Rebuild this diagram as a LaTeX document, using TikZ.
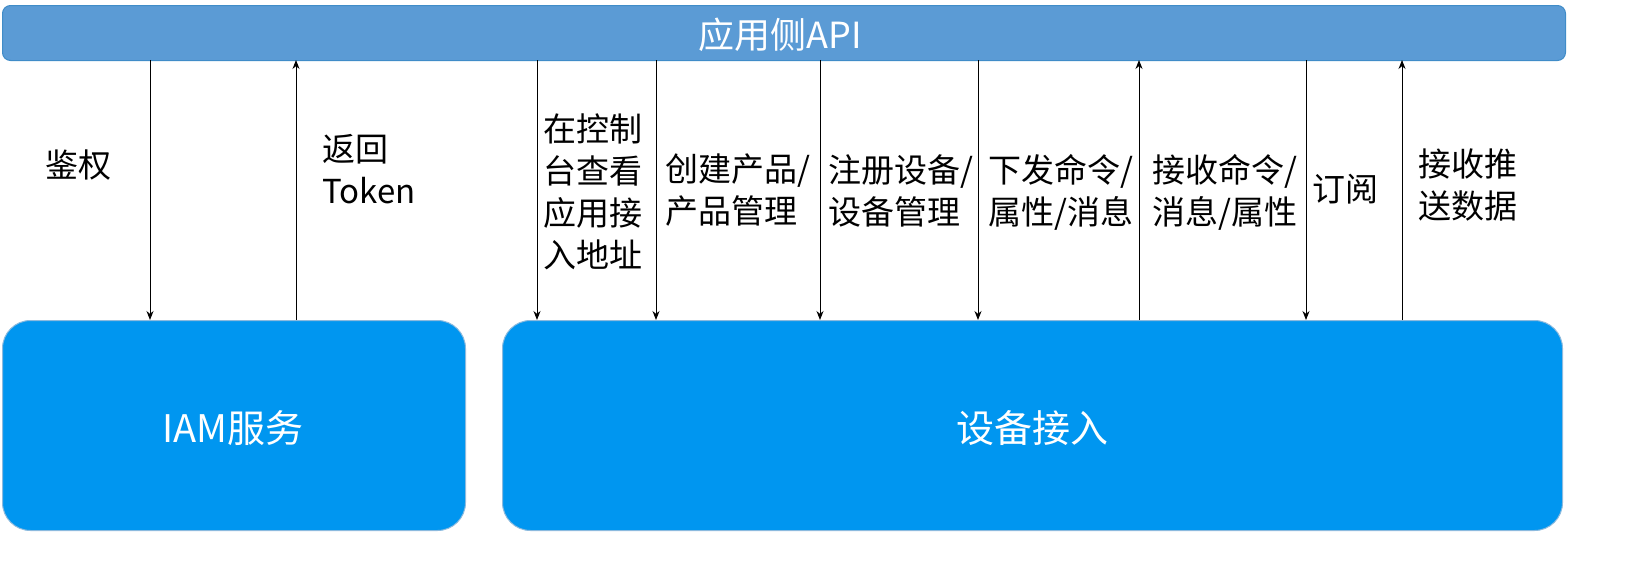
\documentclass[tikz,border=0pt]{standalone}
\usepackage{fontspec}
\setmainfont{Noto Sans CJK SC}
\usetikzlibrary{arrows.meta}
\definecolor{barc}{RGB}{91,155,213}
\definecolor{boxc}{RGB}{0,150,240}
\definecolor{edgec}{RGB}{64,140,200}
\tikzset{
 lbl/.style={anchor=north west,inner sep=0pt,align=left,font=\fontsize{33}{42}\selectfont},
 arr/.style={-{Stealth[length=9pt,width=7pt]},line width=1pt},
 boxs/.style={draw=edgec!60,fill=boxc,rounded corners=28pt,line width=1pt},
 big/.style={text=white,font=\fontsize{38}{42}\selectfont},
}
\begin{document}
\begin{tikzpicture}[x=1pt,y=-1pt]
\node[draw=edgec,fill=barc,rounded corners=8pt,minimum width=1563pt,minimum height=55pt,inner sep=0pt,anchor=north west,line width=1pt] (api) at (2,5) {};
\node[text=white,font=\fontsize{36}{40}\selectfont] (apit) at (780,35) {应用侧API};
\node[boxs,minimum width=463pt,minimum height=210pt,anchor=north west,inner sep=0pt] (iam) at (2,320) {};
\node[big] (iamt) at (233,428) {IAM服务};
\node[boxs,minimum width=1060pt,minimum height=210pt,anchor=north west,inner sep=0pt] (dev) at (502,320) {};
\node[big] (devt) at (1032,428) {设备接入};
\foreach \x in {150,537,656,820,978,1306}{\draw[arr] (\x,60) -- (\x,320);}
\foreach \x in {296,1139,1402}{\draw[arr] (\x,320) -- (\x,60);}
\node[lbl] (l1) at (45,150) {鉴权};
\node[lbl] (l2) at (322,134) {返回\\Token};
\node[lbl] (l3) at (543,114) {在控制\\台查看\\应用接\\入地址};
\node[lbl] (l4) at (665,154) {创建产品/\\产品管理};
\node[lbl] (l5) at (828,154) {注册设备/\\设备管理};
\node[lbl] (l6) at (988,154) {下发命令/\\属性/消息};
\node[lbl] (l7) at (1152,154) {接收命令/\\消息/属性};
\node[lbl] (l8) at (1312,174) {订阅};
\node[lbl] (l9) at (1418,149) {接收推\\送数据};
\pgfresetboundingbox
\path[use as bounding box] (0,0) rectangle (1652,565);
\end{tikzpicture}
\end{document}
